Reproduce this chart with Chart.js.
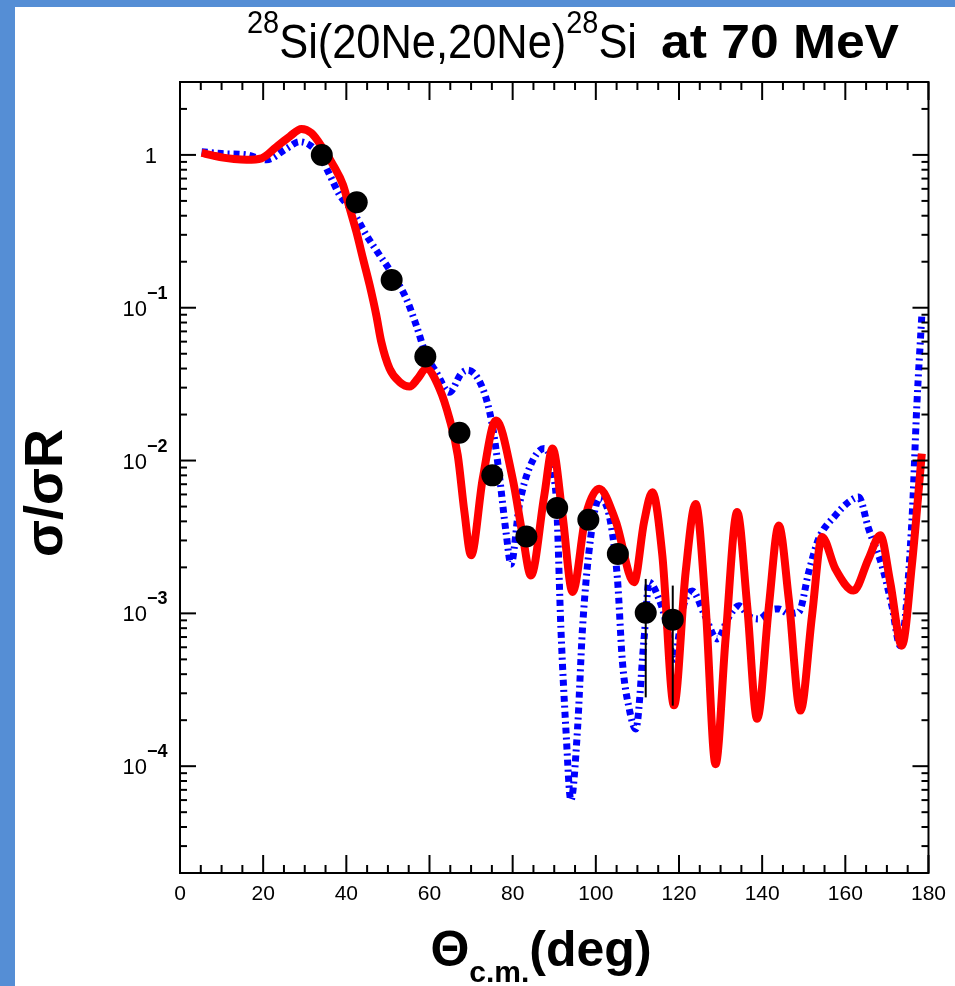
<!DOCTYPE html>
<html>
<head>
<meta charset="utf-8">
<title>28Si(20Ne,20Ne)28Si at 70 MeV</title>
<script src="https://cdn.jsdelivr.net/npm/chart.js@4.4.1/dist/chart.umd.min.js"></script>
<style>
  html, body { margin: 0; padding: 0; background: #fff; }
  #wrap { width: 955px; height: 986px; }
</style>
</head>
<body>
<div id="wrap"><canvas id="xsChart" width="955" height="986"></canvas></div>
<script>
// --- measured angular distribution (sigma / sigma_Rutherford) ---
const expAngle  = [34.1, 42.5, 50.9, 59.0, 67.2, 75.1, 83.3, 90.7, 98.2, 105.3, 112.0, 118.5];
const expRatio  = [1.0, 0.49, 0.152, 0.048, 0.0152, 0.0080, 0.00318, 0.0049, 0.0041, 0.00245, 0.00101, 0.00091];
const expErrHigh = [null, null, null, null, null, null, null, null, null, null, 0.00168, 0.00152];
const expErrLow  = [null, null, null, null, null, null, null, null, null, null, 0.000282, 0.000249];

// --- calculation 1 (solid red) ---
const redAngle = [5.2, 8, 10.4, 13, 16, 19.6, 23.2, 26.4, 29.2, 31.6, 34.4, 36.8, 39.2, 40.8, 42.4, 44, 45.6,
  47.2, 48.4, 50.4, 52.8, 55.2, 57.2, 59.2, 62.4, 64.8, 66.8, 68.4, 70, 72.8, 76, 80, 82.4, 84.4, 87.6, 89.6,
  92, 94.4, 97.6, 100.8, 104.8, 109.2, 111.6, 113.6, 116, 118.8, 121.6, 124, 126.4, 128.8, 131.2, 134, 136.4,
  138.8, 141.6, 144, 146.4, 149.2, 152, 154.4, 157.6, 162, 165.6, 168.4, 170.8, 173.6, 176, 178.4];
const redRatio = [1.03, 0.99, 0.96, 0.94, 0.93, 0.95, 1.13, 1.32, 1.48, 1.39, 1.1, 0.86, 0.636, 0.448, 0.315, 0.21, 0.141,
  0.0895, 0.0599, 0.040, 0.0327, 0.0305, 0.0344, 0.040, 0.0296, 0.0188, 0.0108, 0.0046, 0.0024, 0.0076, 0.0183, 0.0076, 0.00324, 0.00177, 0.0059, 0.012,
  0.00437, 0.00138, 0.0044, 0.00655, 0.0040, 0.0016, 0.00396, 0.0062, 0.00239, 0.00025, 0.00186, 0.0052, 0.00112, 0.000103, 0.00068, 0.0046, 0.00112,
  0.000204, 0.0011, 0.00376, 0.00124, 0.000231, 0.00097, 0.00316, 0.00196, 0.00141, 0.00228, 0.00324, 0.0016, 0.000615, 0.00206, 0.0111];

// --- calculation 2 (dotted blue) ---
const blueAngle = [5.2, 10, 16, 20.8, 25.6, 28.8, 31.2, 33.6, 36, 38.4, 41.6, 44.8, 48, 51.2, 54.4, 56.8, 59.2, 61.6,
  64.8, 67.6, 69.2, 72.8, 75.1, 76.8, 78.4, 79.6, 81.6, 84, 87.6, 90, 90.6, 91.6, 92.8, 94, 95.6, 96.8, 98.8, 100.8,
  103.2, 105.2, 106.4, 108, 109.6, 111.6, 112.8, 115.2, 116.8, 118.8, 121, 123.2, 126, 129.2, 132, 134.4, 137, 139.2,
  142, 144, 146.4, 148.8, 151.2, 153.6, 157.6, 160.8, 163.2, 165.6, 168.8, 171.2, 173.2, 176, 177.2, 178.4];
const blueRatio = [1.05, 1.02, 1.0, 0.93, 1.1, 1.22, 1.16, 1.0, 0.74, 0.547, 0.426, 0.299, 0.221, 0.164, 0.115, 0.077, 0.049, 0.038,
  0.028, 0.037, 0.039, 0.0296, 0.0171, 0.0080, 0.0034, 0.0021, 0.0051, 0.0089, 0.012, 0.0076, 0.005, 0.0008, 0.000175, 0.00006, 0.000175, 0.0008, 0.0032, 0.0056,
  0.0044, 0.00168, 0.00048, 0.00024, 0.000175, 0.00068, 0.0016, 0.00124, 0.0009, 0.0005, 0.0011, 0.0014, 0.001, 0.00068, 0.00095, 0.00112, 0.00095, 0.00092,
  0.00105, 0.00107, 0.001, 0.00102, 0.00186, 0.00308, 0.00437, 0.00535, 0.00577, 0.00358, 0.00206, 0.00112, 0.000615, 0.00396, 0.023, 0.0895];

// --- axis labels ---
const yLabelValues = [1, 0.1, 0.01, 0.001, 0.0001];
const yLabelExps   = ['', '\u22121', '\u22122', '\u22123', '\u22124'];

const FONT = "'Liberation Sans', Arial, sans-serif";
const toXY = (xs, ys) => xs.map((x, i) => ({ x: x, y: ys[i] }));

// 白地と青い縁
const backdropPlugin = {
  id: 'backdrop',
  beforeDraw(chart) {
    const { ctx, width, height } = chart;
    ctx.save();
    ctx.fillStyle = '#fff';
    ctx.fillRect(0, 0, width, height);
    ctx.fillStyle = '#558ed5';
    ctx.fillRect(0, 0, 15, height);
    ctx.fillRect(0, 0, width, 7);
    ctx.restore();
  }
};

// error bars on the data points
const errorBarPlugin = {
  id: 'errorBars',
  afterDatasetsDraw(chart) {
    const { ctx, scales: { x, y } } = chart;
    ctx.save();
    ctx.strokeStyle = '#000';
    ctx.lineWidth = 2;
    expAngle.forEach((a, i) => {
      if (expErrLow[i] == null) return;
      const px = x.getPixelForValue(a);
      ctx.beginPath();
      ctx.moveTo(px, y.getPixelForValue(expErrHigh[i]));
      ctx.lineTo(px, y.getPixelForValue(expErrLow[i]));
      ctx.stroke();
    });
    ctx.restore();
  }
};

// 枠・内向きの目盛り・タイトル類
const framePlugin = {
  id: 'frame',
  afterDraw(chart) {
    const { ctx, chartArea: a, scales: { x, y } } = chart;
    ctx.save();
    ctx.strokeStyle = '#000';
    ctx.lineWidth = 2;
    ctx.strokeRect(a.left, a.top, a.right - a.left, a.bottom - a.top);

    const seg = (x0, y0, x1, y1) => { ctx.beginPath(); ctx.moveTo(x0, y0); ctx.lineTo(x1, y1); ctx.stroke(); };
    for (let v = 0; v <= 180; v += 5) {
      const px = x.getPixelForValue(v);
      const len = v % 20 === 0 ? 18 : 8;
      seg(px, a.bottom, px, a.bottom - len);
      seg(px, a.top, px, a.top + len);
    }
    for (let d = -5; d <= 0; d++) {
      for (let m = 1; m <= 9; m++) {
        const v = m * Math.pow(10, d);
        if (v < y.min || v > y.max) continue;
        const py = y.getPixelForValue(v);
        const len = m === 1 ? 16 : 7;
        seg(a.left, py, a.left + len, py);
        seg(a.right, py, a.right - len, py);
      }
    }

    // y tick labels: 1, 10^-1 ...
    ctx.fillStyle = '#000';
    ctx.textBaseline = 'alphabetic';
    yLabelValues.forEach((v, i) => {
      const py = y.getPixelForValue(v);
      ctx.font = '22px ' + FONT;
      if (!yLabelExps[i]) {
        ctx.textAlign = 'right';
        ctx.fillText('1', 157, py + 8);
        return;
      }
      ctx.textAlign = 'right';
      ctx.fillText('10', 147, py + 8);
      ctx.textAlign = 'left';
      ctx.font = 'bold 18px ' + FONT;
      ctx.fillText(yLabelExps[i], 147, py - 9);
    });

    // y axis title
    ctx.save();
    ctx.translate(62, 493);
    ctx.rotate(-Math.PI / 2);
    ctx.textAlign = 'center';
    ctx.font = 'bold 54px ' + FONT;
    ctx.fillText('\u03c3/\u03c3R', 0, 0);
    ctx.restore();

    // x axis title: Θ_c.m.(deg)
    ctx.textAlign = 'left';
    const big = 'bold 50px ' + FONT, sub = 'bold 30px ' + FONT;
    ctx.font = big; const wTh = ctx.measureText('\u0398').width;
    ctx.font = sub; const wCm = ctx.measureText('c.m.').width;
    ctx.font = big; const wDeg = ctx.measureText('(deg)').width;
    let tx = 541 - (wTh + wCm + wDeg) / 2;
    ctx.font = big; ctx.fillText('\u0398', tx, 966); tx += wTh;
    ctx.font = sub; ctx.fillText('c.m.', tx, 982); tx += wCm;
    ctx.font = big; ctx.fillText('(deg)', tx, 966);

    // header
    drawRun(ctx, [
      { text: '28', font: '32px ' + FONT, dy: -25 },
      { text: 'Si(20Ne,20Ne)', font: '48px ' + FONT },
      { text: '28', font: '32px ' + FONT, dy: -25 },
      { text: 'Si', font: '48px ' + FONT }
    ], 247, 637, 58);
    drawRun(ctx, [{ text: 'at 70 MeV', font: 'bold 48px ' + FONT }], 661, 899, 58);
    ctx.restore();
  }
};

// 文字列を幅に合わせて横方向に伸縮して描く
function drawRun(ctx, pieces, x0, x1, baseline) {
  let total = 0;
  pieces.forEach(p => { ctx.font = p.font; p.w = ctx.measureText(p.text).width; total += p.w; });
  ctx.save();
  ctx.translate(x0, baseline);
  ctx.scale((x1 - x0) / total, 1);
  ctx.textAlign = 'left';
  let cx = 0;
  pieces.forEach(p => { ctx.font = p.font; ctx.fillText(p.text, cx, p.dy || 0); cx += p.w; });
  ctx.restore();
}

new Chart(document.getElementById('xsChart'), {
  type: 'scatter',
  data: {
    datasets: [
      { label: 'data', data: toXY(expAngle, expRatio), backgroundColor: '#000', borderWidth: 0, pointRadius: 11, showLine: false },
      { label: 'calc1', data: toXY(redAngle, redRatio), showLine: true, borderColor: '#ff0000', borderWidth: 8,
        pointRadius: 0, cubicInterpolationMode: 'monotone', borderJoinStyle: 'round' },
      { label: 'calc2', data: toXY(blueAngle, blueRatio), showLine: true, borderColor: '#0000ff', borderWidth: 7,
        borderDash: [6, 4, 2, 4], borderCapStyle: 'butt', pointRadius: 0, cubicInterpolationMode: 'monotone' }
    ]
  },
  options: {
    responsive: false,
    animation: false,
    events: [],
    layout: { padding: { left: 180, top: 82, right: 25, bottom: 0 } },
    plugins: { legend: { display: false }, tooltip: { enabled: false }, title: { display: false } },
    scales: {
      x: {
        type: 'linear', min: 0, max: 180,
        afterFit: s => { s.height = 113; },
        grid: { display: false, drawTicks: false },
        border: { display: false },
        ticks: { stepSize: 20, color: '#000', padding: 9, maxRotation: 0, autoSkip: false,
                 font: { family: FONT, size: 21 } }
      },
      y: { type: 'logarithmic', min: 2e-5, max: 3, display: false }
    }
  },
  plugins: [backdropPlugin, errorBarPlugin, framePlugin]
});
</script>
</body>
</html>
